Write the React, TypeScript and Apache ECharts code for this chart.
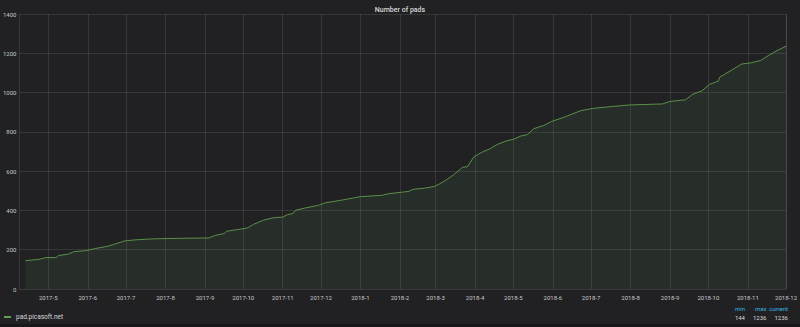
import React, { useEffect, useRef } from "react";
import * as echarts from "echarts";

const seriesName = "pad.picasoft.net";
const titleText = "Number of pads";

const dates: string[] = [
  "2017-04-13", "2017-04-24", "2017-04-29", "2017-05-07", "2017-05-09", "2017-05-17",
  "2017-05-21", "2017-05-30", "2017-06-07", "2017-06-17", "2017-06-22", "2017-06-30",
  "2017-07-08", "2017-07-21", "2017-08-11", "2017-09-04", "2017-09-09", "2017-09-16",
  "2017-09-18", "2017-09-26", "2017-10-04", "2017-10-09", "2017-10-17", "2017-10-25",
  "2017-11-01", "2017-11-05", "2017-11-09", "2017-11-11", "2017-11-19", "2017-11-29",
  "2017-12-04", "2017-12-17", "2017-12-26", "2018-01-01", "2018-01-18", "2018-01-23",
  "2018-02-08", "2018-02-11", "2018-02-21", "2018-02-28", "2018-03-04", "2018-03-09",
  "2018-03-15", "2018-03-22", "2018-03-26", "2018-03-31", "2018-04-06", "2018-04-13",
  "2018-04-18", "2018-04-26", "2018-05-01", "2018-05-07", "2018-05-12", "2018-05-17",
  "2018-05-25", "2018-05-31", "2018-06-10", "2018-06-23", "2018-07-03", "2018-07-16",
  "2018-07-31", "2018-08-26", "2018-09-01", "2018-09-13", "2018-09-19", "2018-09-26",
  "2018-10-02", "2018-10-09", "2018-10-10", "2018-10-18", "2018-10-27", "2018-11-03",
  "2018-11-11", "2018-11-17", "2018-11-24", "2018-12-01",
];

const pads: number[] = [
  144, 151, 160, 160, 170, 178,
  190, 195, 206, 218, 228, 245,
  250, 255, 258, 260, 273, 282,
  294, 302, 310, 329, 351, 363,
  366, 379, 384, 401, 413, 426,
  438, 452, 463, 470, 477, 485,
  497, 507, 514, 522, 535, 554,
  581, 619, 623, 673, 695, 715,
  735, 755, 762, 779, 786, 816,
  833, 853, 875, 908, 920, 928,
  937, 942, 955, 963, 992, 1009,
  1042, 1059, 1079, 1109, 1145, 1151,
  1163, 1188, 1214, 1236,
];

const statHeaders: string[] = ["min", "max", "current"];
const statValues: string[] = ["144", "1236", "1236"];

const xMin = "2017-04-08T10:00:00";
const xMax = "2018-12-01T00:00:00";
const yTicks: number[] = [0, 200, 400, 600, 800, 1000, 1200, 1400];

export default function App() {
  const ref = useRef<HTMLDivElement>(null);
  useEffect(() => {
    document.body.style.margin = "0";
    document.body.style.background = "#161719";
    const chart = echarts.init(ref.current!, null, { renderer: "svg" });
    const font = "Roboto, 'Liberation Sans', sans-serif";
    const statRight = [745, 766.5, 788];
    const graphics: any[] = [];
    statHeaders.forEach((h, i) => {
      graphics.push({
        type: "text",
        x: statRight[i],
        y: 308,
        style: { text: h, fill: "#33b5e5", font: `6px ${font}`, align: "right", verticalAlign: "middle" },
      });
      graphics.push({
        type: "text",
        x: statRight[i],
        y: 317,
        style: { text: statValues[i], fill: "#d8d9da", font: `6px ${font}`, align: "right", verticalAlign: "middle" },
      });
    });
    chart.setOption({
      animation: false,
      backgroundColor: "#212124",
      textStyle: { fontFamily: font },
      title: {
        text: titleText,
        left: "center",
        top: 1,
        textStyle: { color: "#d8d9da", fontSize: 7, fontWeight: 500, fontFamily: font },
      },
      legend: {
        left: 4,
        top: 313.5,
        padding: 0,
        icon: "rect",
        itemWidth: 7,
        itemHeight: 2,
        itemGap: 4,
        textStyle: { color: "#d8d9da", fontSize: 6.5, fontFamily: font },
        data: [seriesName],
      },
      grid: { left: 15, right: 13, top: 14, bottom: 35, containLabel: false },
      xAxis: {
        type: "time",
        min: xMin,
        max: xMax,
        minInterval: 28 * 86400000,
        maxInterval: 31 * 86400000,
        axisLine: { show: true, lineStyle: { color: "#3a3a3d" } },
        axisTick: { show: false },
        splitLine: { show: true, lineStyle: { color: "rgba(255,255,255,0.1)", width: 1 } },
        axisLabel: {
          color: "#c7c7c9",
          fontSize: 6,
          margin: 5,
          formatter: (v: number) => {
            const d = new Date(v);
            return `${d.getFullYear()}-${d.getMonth() + 1}`;
          },
          showMinLabel: false,
          showMaxLabel: true,
          hideOverlap: false,
        },
      },
      yAxis: {
        type: "value",
        min: yTicks[0],
        max: yTicks[yTicks.length - 1],
        interval: 200,
        axisLine: { show: false },
        axisTick: { show: false },
        splitLine: { lineStyle: { color: "rgba(255,255,255,0.1)", width: 1 } },
        axisLabel: { color: "#c7c7c9", fontSize: 6, margin: 3, formatter: (v: number) => String(v) },
      },
      series: [
        {
          name: seriesName,
          type: "line",
          data: dates.map((d, i) => [d, pads[i]]),
          showSymbol: false,
          symbol: "none",
          lineStyle: { color: "#5a9048", width: 1 },
          itemStyle: { color: "#629e51" },
          areaStyle: { color: "#629e51", opacity: 0.1 },
        },
      ],
      graphic: graphics,
    });
    return () => chart.dispose();
  }, []);
  return (
    <div style={{ position: "fixed", left: 0, top: 0, width: 800, height: 327, background: "#161719" }}>
      <div ref={ref} style={{ width: 800, height: 324 }} />
    </div>
  );
}
